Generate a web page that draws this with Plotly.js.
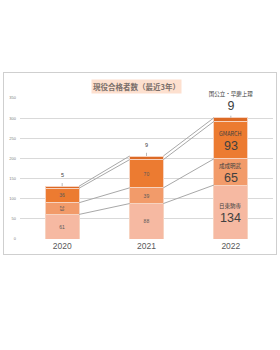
<!DOCTYPE html>
<html><head><meta charset="utf-8">
<script src="https://cdn.plot.ly/plotly-3.0.1.min.js"></script>
<style>
html,body{margin:0;padding:0;background:#fff;width:280px;height:350px;overflow:hidden;}
#frame{position:absolute;left:3px;top:72px;width:274px;height:183px;border:1px solid #cfcfcf;box-sizing:border-box;background:#fff;}
#chart{width:272px;height:181px;}
</style></head><body>
<div id="frame"><div id="chart"></div></div>
<script>
const years = ['2020','2021','2022'];
const groups = ['日東駒専','成成明武','GMARCH','国公立・早慶上理'];
const nittoukomasen = [61, 88, 134];
const seiseimeibu = [29, 39, 65];
const gmarch = [36, 70, 93];
const kokkouritsu = [5, 9, 9];
const series = [nittoukomasen, seiseimeibu, gmarch, kokkouritsu];
const colors = ['#f6b9a2','#f29b6a','#ec7b31','#dc6a25'];
const xs = years.map((y,i)=>i);
const JP = '"Noto Sans CJK JP", sans-serif';
const BW = 0.4;

const traces = [];
const annotations = [];
const last = years.length-1;
const cum = series.map((s,k)=>xs.map(i=>series.slice(0,k+1).reduce((a,b)=>a+b[i],0)));

// series lines
series.forEach((s,k)=>{
  for(let i=0;i<last;i++){
    traces.push({type:'scatter',mode:'lines',x:[i+BW/2,i+1-BW/2],y:[cum[k][i],cum[k][i+1]],
      line:{color:'#a8a8a8',width:1},hoverinfo:'skip',showlegend:false});
  }
});

series.forEach((s,k)=>{
  const isTop = k===series.length-1;
  traces.push({type:'bar',x:xs,y:s,width:BW,name:groups[k],
    marker:{color:colors[k],line:{color:'#f7d3c0',width:1}},
    text: s.map((v,i)=> (i<last && !isTop) ? String(v) : ''),
    textposition:'inside',insidetextanchor:'middle',
    textfont:{size:5,color:'#595959',family:'Arial'},
    hoverinfo:'skip',showlegend:false});
  xs.forEach(i=>{
    const mid = cum[k][i]-s[i]/2;
    if(i===last){
      if(isTop){
        annotations.push({x:i,y:cum[k][i],xref:'x',yref:'y',yanchor:'middle',yshift:12,showarrow:false,
          text:String(s[i]),font:{family:'Arial',size:12.5,color:'#404040'},bgcolor:'#ffffff',width:58,height:14});
        annotations.push({x:i,y:cum[k][i],xref:'x',yref:'y',yanchor:'middle',yshift:24,showarrow:false,
          text:groups[k],font:{family:JP,size:5.5,color:'#404040'},bgcolor:'#ffffff',width:58,height:10});
      } else {
        annotations.push({x:i,y:mid,xref:'x',yref:'y',yanchor:'middle',yshift:6,showarrow:false,
          text:groups[k],font:{family:JP,size:5.5,color:'#404040'}});
        annotations.push({x:i,y:mid,xref:'x',yref:'y',yanchor:'middle',yshift:-6,showarrow:false,
          text:String(s[i]),font:{family:'Arial',size:12.5,color:'#404040'}});
      }
    } else if(isTop){
      annotations.push({x:i,y:cum[k][i],xref:'x',yref:'y',yanchor:'bottom',yshift:6,showarrow:false,
        text:String(s[i]),font:{family:'Arial',size:5.5,color:'#404040'}});
    }
  });
});
// leader lines for top labels
xs.forEach(i=>{
  const t = cum[series.length-1][i];
  traces.push({type:'scatter',mode:'lines',x:[i,i],y:[t,t+(i===last?5:8)],
    line:{color:'#a8a8a8',width:0.8},hoverinfo:'skip',showlegend:false});
});

annotations.push({xref:'paper',yref:'paper',x:0.46,y:1.085,yanchor:'middle',showarrow:false,
  text:'<b>現役合格者数（最近3年）</b>',font:{family:JP,size:7.5,color:'#7a6f6a'},
  bgcolor:'#fde0cf',borderpad:1});

const layout = {
  width:272,height:181,
  margin:{l:16,r:3,t:25,b:15},
  paper_bgcolor:'#ffffff',plot_bgcolor:'#ffffff',
  barmode:'stack',bargap:0.6,
  showlegend:false,
  xaxis:{range:[-0.5,2.5],tickvals:xs,ticktext:years,showgrid:false,zeroline:false,
    showline:false,ticks:'',tickfont:{family:'Arial',size:8.5,color:'#595959'},fixedrange:true},
  yaxis:{range:[0,350],dtick:50,showgrid:true,gridcolor:'#d9d9d9',gridwidth:1,zeroline:false,
    showline:false,ticks:'',tickfont:{family:'Arial',size:4,color:'#7f7f7f'},ticklabelstandoff:3,fixedrange:true},
  annotations:annotations,
  font:{family:JP}
};
Plotly.newPlot('chart',traces,layout,{staticPlot:true,displayModeBar:false});
</script>
</body></html>
